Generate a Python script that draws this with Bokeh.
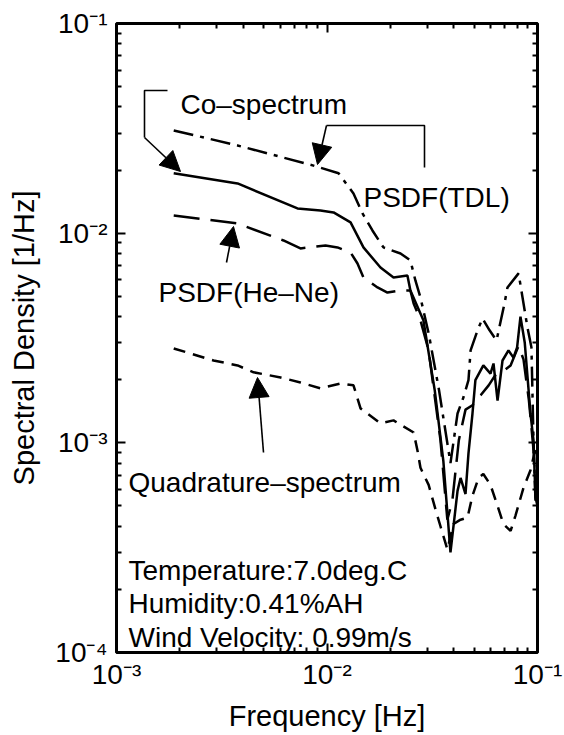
import math
from bokeh.plotting import figure
from bokeh.models import (Range1d, FixedTicker, LogAxis, CustomJSTickFormatter,
                          Label, Arrow, NormalHead)
from bokeh.embed import file_html
from bokeh.resources import INLINE

# ---------------- data ----------------
co_f = [0.00187, 0.00376, 0.00724, 0.00931, 0.01074, 0.01294, 0.0149, 0.01795,
        0.0207, 0.0241, 0.0249, 0.0287, 0.0325, 0.0357, 0.0386, 0.0417, 0.0431,
        0.0455, 0.0470, 0.0491, 0.0507, 0.0553, 0.0598, 0.0618, 0.0646, 0.0682,
        0.0728, 0.0769, 0.0800, 0.0830, 0.0870, 0.0926, 0.0957, 0.0978, 0.1]
co_s = [0.0193, 0.01726, 0.01312, 0.01283, 0.01256, 0.01125, 0.00855, 0.00686,
        0.00615, 0.00628, 0.00533, 0.00384, 0.00178, 0.00082, 0.00030, 0.00059,
        0.00068, 0.00057, 0.00089, 0.00138, 0.00199, 0.00234, 0.00214, 0.00239,
        0.00159, 0.00247, 0.00276, 0.00255, 0.00285, 0.0040, 0.0030, 0.00138,
        0.00103, 0.00055, 0.00050]

tdl_f = [0.00187, 0.00376, 0.00863, 0.01135, 0.01336, 0.01475, 0.01644, 0.01854,
         0.02235, 0.0249, 0.0263, 0.0278, 0.0304, 0.0340, 0.0386, 0.0417, 0.0445,
         0.0470, 0.0481, 0.0519, 0.0548, 0.0592, 0.0639, 0.0697, 0.0720, 0.0813,
         0.0849, 0.0896, 0.0936, 0.0957, 0.0978, 0.1]
tdl_s = [0.0309, 0.0262, 0.0210, 0.0193, 0.01546, 0.01242, 0.0103, 0.00855,
         0.0080, 0.00741, 0.00595, 0.00493, 0.00333, 0.00180, 0.00080, 0.00138,
         0.00165, 0.00199, 0.00276, 0.00344, 0.00392, 0.00344, 0.00308, 0.00462,
         0.00551, 0.00643, 0.00493, 0.00355, 0.00285, 0.00103, 0.00053, 0.00070]

hene_f = [0.00187, 0.00376, 0.00621, 0.00748, 0.00984, 0.01122, 0.01294, 0.01396,
          0.0149, 0.01738, 0.01937, 0.02235, 0.0249, 0.0258, 0.0278, 0.0304,
          0.0346, 0.0373, 0.0394, 0.0423, 0.0455, 0.0491, 0.0538, 0.0586, 0.0630,
          0.0690, 0.0745, 0.0813, 0.0858, 0.0910, 0.0957, 0.1]
hene_s = [0.01214, 0.01112, 0.00923, 0.00846, 0.00873, 0.00855, 0.00809, 0.00717,
          0.00615, 0.00551, 0.00521, 0.00533, 0.00533, 0.00462, 0.00384, 0.00276,
          0.00103, 0.00043, 0.00053, 0.00103, 0.00144, 0.00151, 0.00169, 0.00188,
          0.0021, 0.0022, 0.00234, 0.0029, 0.0025, 0.0016, 0.00093, 0.00074]

quad_f = [0.00187, 0.00289, 0.00376, 0.00448, 0.00602, 0.00748, 0.00931, 0.01159,
          0.01336, 0.01443, 0.01795, 0.0207, 0.0258, 0.0269, 0.0278, 0.0304,
          0.0328, 0.0346, 0.0373, 0.0399, 0.0431, 0.0465, 0.0491, 0.0525, 0.0553,
          0.0598, 0.0646, 0.0689, 0.0745, 0.0786, 0.0858, 0.0926, 0.1]
quad_s = [0.00282, 0.00247, 0.00234, 0.00217, 0.00205, 0.00194, 0.00182, 0.00192,
          0.00188, 0.00146, 0.00124, 0.00128, 0.00112, 0.00092, 0.00076, 0.00063,
          0.00048, 0.00040, 0.00031, 0.00041, 0.00043, 0.00044, 0.00056, 0.00068,
          0.00071, 0.00063, 0.00050, 0.00041, 0.00038, 0.00045, 0.00061, 0.00074,
          0.00103]

x_ticks = [1e-3, 1e-2, 1e-1]
x_tick_labels = ["10\u207b\u00b3", "10\u207b\u00b2", "10\u207b\u00b9"]
y_ticks = [1e-4, 1e-3, 1e-2, 1e-1]
y_tick_labels = ["10\u207b\u2074", "10\u207b\u00b3", "10\u207b\u00b2", "10\u207b\u00b9"]

# ---------------- layout (canvas pixels) ----------------
L, R, T, B = 116, 537, 23, 652
W, H = 564, 735
XMIN, XMAX, YMIN, YMAX = 1e-3, 1e-1, 1e-4, 1e-1
LX0, LX1 = math.log10(XMIN), math.log10(XMAX)
LY0, LY1 = math.log10(YMIN), math.log10(YMAX)


def dx(xp):
    return 10 ** (LX0 + (LX1 - LX0) * (xp - L) / (R - L))


def dy(yp):
    return 10 ** (LY1 - (LY1 - LY0) * (yp - T) / (B - T))


FONT = "Liberation Sans"

p = figure(x_axis_type="log", y_axis_type="log",
           x_range=Range1d(XMIN, XMAX), y_range=Range1d(YMIN, YMAX),
           width=W, height=H, output_backend="svg", toolbar_location=None,
           min_border_left=L, min_border_right=W - R,
           min_border_top=T, min_border_bottom=H - B)
p.background_fill_color = "white"
p.border_fill_color = "white"
p.outline_line_color = "black"
p.outline_line_width = 3
p.xgrid.grid_line_color = None
p.ygrid.grid_line_color = None


def minors(lo, hi):
    out = []
    e = int(round(math.log10(lo)))
    while 10 ** e < hi:
        for k in range(2, 10):
            out.append(k * 10 ** e)
        e += 1
    return out


def style(ax):
    ax.axis_line_color = None
    ax.major_tick_in = 9
    ax.major_tick_out = 0
    ax.minor_tick_in = 5
    ax.minor_tick_out = 0
    ax.major_tick_line_width = 2
    ax.minor_tick_line_width = 2
    ax.major_tick_line_color = "black"
    ax.minor_tick_line_color = "black"
    ax.major_label_text_font = FONT
    ax.major_label_text_font_size = "28px"
    ax.major_label_text_color = "black"
    ax.axis_label_text_font = FONT
    ax.axis_label_text_font_size = "29px"
    ax.axis_label_text_font_style = "normal"
    ax.axis_label_text_color = "black"


xa = p.xaxis[0]
ya = p.yaxis[0]
xa.ticker = FixedTicker(ticks=x_ticks, minor_ticks=minors(XMIN, XMAX))
ya.ticker = FixedTicker(ticks=y_ticks, minor_ticks=minors(YMIN, YMAX))
style(xa)
style(ya)
xa.major_label_overrides = dict(zip(x_ticks, x_tick_labels))
ya.major_label_overrides = dict(zip(y_ticks, y_tick_labels))
xa.major_label_standoff = 6
ya.major_label_standoff = 9
xa.axis_label = "Frequency [Hz]"
ya.axis_label = "Spectral Density [1/Hz]"
xa.axis_label_standoff = 7
ya.axis_label_standoff = 12

top = LogAxis(ticker=FixedTicker(ticks=x_ticks, minor_ticks=minors(XMIN, XMAX)),
              formatter=CustomJSTickFormatter(code="return ''"))
right = LogAxis(ticker=FixedTicker(ticks=y_ticks, minor_ticks=minors(YMIN, YMAX)),
                formatter=CustomJSTickFormatter(code="return ''"))
style(top)
style(right)
top.major_label_standoff = 0
right.major_label_standoff = 0
top.major_label_text_font_size = "1px"
right.major_label_text_font_size = "1px"
p.add_layout(top, "above")
p.add_layout(right, "right")

# ---------------- curves ----------------
p.line(tdl_f, tdl_s, line_color="black", line_width=2.5, line_dash="20 7 4 7")
p.line(co_f, co_s, line_color="black", line_width=2.5)
p.line(hene_f, hene_s, line_color="black", line_width=2.5, line_dash="26 11")
p.line(quad_f, quad_s, line_color="black", line_width=2.5, line_dash="12 8")


# ---------------- annotations ----------------
def note(xp, yp, s):
    p.add_layout(Label(x=dx(xp), y=dy(yp), text=s, text_font=FONT,
                       text_font_size="28px", text_align="left",
                       text_baseline="alphabetic", text_color="black"))


def arrow(x0, y0, x1, y1):
    p.add_layout(Arrow(end=NormalHead(size=20, fill_color="black",
                                      line_color="black", line_width=1),
                       x_start=dx(x0), y_start=dy(y0), x_end=dx(x1), y_end=dy(y1),
                       line_color="black", line_width=1.6))


def bracket(pts):
    p.line([dx(a) for a, _ in pts], [dy(b) for _, b in pts],
           line_color="black", line_width=1.6)


note(180, 104, "Co\u2013spectrum")
bracket([(167, 90), (144, 90), (144, 137)])
arrow(144, 137, 180, 171)

note(363, 197, "PSDF(TDL)")
bracket([(424, 167), (424, 125), (326, 125)])
arrow(326, 125, 317, 164)

note(158, 292, "PSDF(He\u2013Ne)")
arrow(226, 262, 233, 226)

note(128, 482, "Quadrature\u2013spectrum")
arrow(263, 452, 257, 377)

note(128, 570, "Temperature:7.0deg.C")
note(128, 603, "Humidity:0.41%AH")
note(128, 637, "Wind Velocity: 0.99m/s")

open("out.html", "w").write(file_html(p, INLINE))
